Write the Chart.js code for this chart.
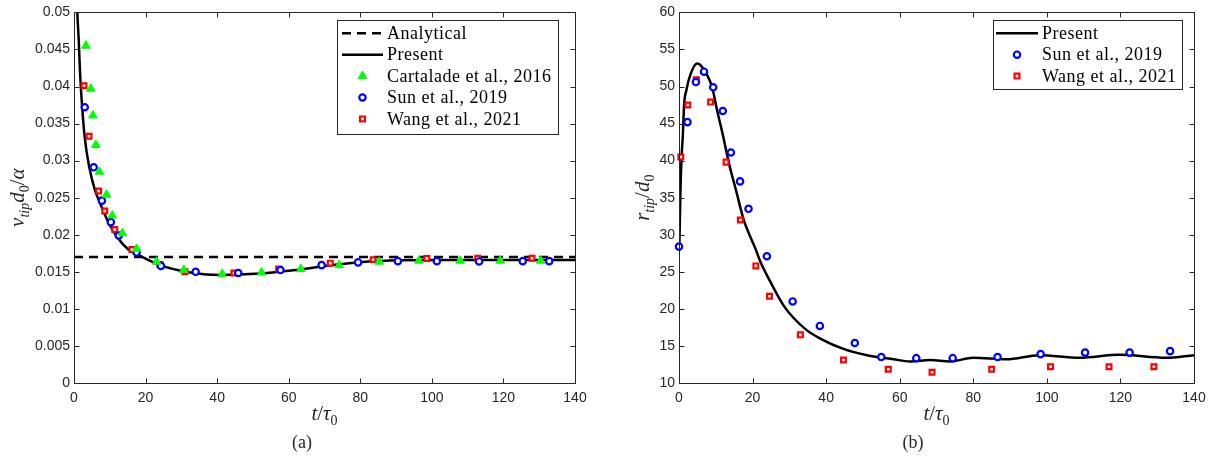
<!DOCTYPE html>
<html lang="en">
<head>
<meta charset="UTF-8">
<title>Tip velocity and tip radius</title>
<script src="https://cdn.jsdelivr.net/npm/chart.js"></script>
<style>
  body { margin: 0; background: #fff; }
  .panel { position: absolute; top: 0; width: 608px; height: 459px; }
</style>
</head>
<body>

<div class="panel" style="left:0"><canvas id="chartA"></canvas></div>
<div class="panel" style="left:608px"><canvas id="chartB"></canvas></div>

<script>
// ---- data ----
const tickT = [0, 20, 40, 60, 80, 100, 120, 140];
const tickV = [0, 0.005, 0.01, 0.015, 0.02, 0.025, 0.03, 0.035, 0.04, 0.045, 0.05];
const tickR = [10, 15, 20, 25, 30, 35, 40, 45, 50, 55, 60];

// (a) tip velocity
const analyticalT = [0, 140];
const analyticalV = [0.017, 0.017];
const presentTA = [0.6, 0.93, 1.3, 1.68, 2.23, 2.98, 4.27, 5.87, 7.26, 9.3, 11.9, 15.2, 17.5, 24, 33.3, 40.8, 52, 61.3, 70.6, 79, 91, 105, 120, 140];
const presentVA = [0.056, 0.05, 0.0465, 0.042, 0.0376, 0.0332, 0.0291, 0.026, 0.0243, 0.022, 0.0198, 0.018, 0.0174, 0.0159, 0.01484, 0.01457, 0.01476, 0.0152, 0.01582, 0.01627, 0.01657, 0.0166, 0.0166, 0.0166];
const cartT = [3.35, 4.7, 5.3, 6.1, 7.1, 9.1, 10.7, 13.5, 17.5, 23.1, 30.7, 41.4, 52.4, 63.4, 74.1, 85.3, 96.4, 107.9, 119.1, 130.4];
const cartV = [0.0455, 0.0397, 0.0361, 0.0321, 0.0285, 0.0254, 0.0226, 0.0202, 0.0181, 0.01636, 0.01524, 0.0147, 0.0149, 0.01537, 0.0159, 0.01636, 0.0165, 0.0165, 0.0165, 0.0165];
const sunTA = [3.0, 5.5, 7.8, 10.3, 12.5, 17.5, 24.3, 34.0, 45.9, 57.7, 69.2, 79.4, 90.5, 101.4, 113.2, 125.4, 132.8];
const sunVA = [0.0372, 0.0291, 0.0246, 0.0217, 0.0199, 0.0176, 0.0158, 0.0150, 0.01484, 0.01524, 0.0159, 0.01627, 0.01644, 0.01644, 0.0164, 0.01644, 0.01644];
const wangTA = [2.8, 4.2, 6.9, 8.6, 11.4, 16.2, 24.0, 31.0, 44.7, 57.2, 71.6, 83.6, 98.6, 112.8, 128.0];
const wangVA = [0.0401, 0.0333, 0.0259, 0.0232, 0.0207, 0.0180, 0.0160, 0.0150, 0.01484, 0.01537, 0.01617, 0.01662, 0.0168, 0.01684, 0.01684];

// (b) tip radius
const presentTB = [0.1, 0.4, 0.7, 1.0, 1.4, 2.0, 3.1, 4.9, 5.8, 7.6, 9.0, 10.4, 12.0, 13.5, 15.5, 17.6, 20.8, 22.1, 24.8, 28.5, 31.1, 34.8, 38.4, 44.7, 51.1, 58.3, 62.8, 68.3, 73.7, 80, 89, 98, 108.9, 119.7, 132.4, 140];
const presentRB = [28.5, 36, 40.5, 43, 47.6, 49.5, 51.6, 53.1, 52.9, 51.6, 49.9, 46.7, 43.3, 39.8, 36.0, 32.0, 28.1, 26.4, 23.7, 20.4, 18.8, 17.1, 16.0, 14.6, 13.75, 13.2, 12.9, 13.1, 12.9, 13.4, 13.2, 13.75, 13.4, 13.8, 13.4, 13.75];
const sunTB = [0, 2.3, 4.6, 6.8, 9.3, 11.9, 14.1, 16.6, 18.9, 23.9, 30.9, 38.3, 47.8, 55.0, 64.5, 74.4, 86.6, 98.3, 110.4, 122.5, 133.5];
const sunRB = [28.4, 45.2, 50.6, 52.0, 49.9, 46.7, 41.1, 37.2, 33.5, 27.1, 21.0, 17.7, 15.4, 13.5, 13.35, 13.35, 13.5, 13.9, 14.1, 14.1, 14.3];
const wangTB = [0.5, 2.4, 4.7, 8.6, 12.8, 16.7, 20.9, 24.6, 33.0, 44.7, 56.9, 68.8, 85.0, 101.0, 116.9, 129.1];
const wangRB = [40.5, 47.5, 50.9, 47.9, 39.8, 32.0, 25.8, 21.7, 16.5, 13.1, 11.85, 11.45, 11.85, 12.2, 12.2, 12.2];

const pts = (xs, ys) => xs.map((x, i) => ({ x: x, y: ys[i] }));

const AXIS = '#262626';
const SERIF = '"Liberation Serif", "Times New Roman", serif';

// little helper to draw math-ish text with subscripts
function drawMath(ctx, parts, cx, cy, rot) {
  const big = 21, small = 14;
  const fontOf = p => (p.it ? 'italic ' : '') + (p.sub ? small : big) + 'px ' + SERIF;
  let w = 0;
  parts.forEach(p => { ctx.font = fontOf(p); p.w = ctx.measureText(p.t).width; w += p.w; });
  ctx.save();
  ctx.translate(cx, cy);
  ctx.rotate(rot || 0);
  ctx.fillStyle = AXIS;
  ctx.textBaseline = 'alphabetic';
  let x = -w / 2;
  parts.forEach(p => {
    ctx.font = fontOf(p);
    ctx.fillText(p.t, x, p.sub ? 11 : 6);
    x += p.w;
  });
  ctx.restore();
}

const decor = {
  id: 'decor',
  afterDraw(chart, args, o) {
    const ctx = chart.ctx;
    const a = chart.chartArea;
    const xs = chart.scales.x, ys = chart.scales.y;
    ctx.save();
    // box + inward ticks
    ctx.strokeStyle = AXIS;
    ctx.lineWidth = 1;
    const L = Math.round(a.left) + 0.5, R = Math.round(a.right) + 0.5;
    const T = Math.round(a.top) + 0.5, B = Math.round(a.bottom) + 0.5;
    ctx.strokeRect(L, T, R - L, B - T);
    ctx.beginPath();
    xs.ticks.forEach(t => {
      const px = Math.round(xs.getPixelForValue(t.value)) + 0.5;
      ctx.moveTo(px, B); ctx.lineTo(px, B - 5);
      ctx.moveTo(px, T); ctx.lineTo(px, T + 5);
    });
    ys.ticks.forEach(t => {
      const py = Math.round(ys.getPixelForValue(t.value)) + 0.5;
      ctx.moveTo(L, py); ctx.lineTo(L + 5, py);
      ctx.moveTo(R, py); ctx.lineTo(R - 5, py);
    });
    ctx.stroke();

    // axis titles and caption
    drawMath(ctx, o.xTitle, (a.left + a.right) / 2, 414, 0);
    drawMath(ctx, o.yTitle, o.yTitleX, (a.top + a.bottom) / 2, -Math.PI / 2);
    ctx.fillStyle = AXIS;
    ctx.font = '18px ' + SERIF;
    ctx.textAlign = 'center';
    ctx.textBaseline = 'middle';
    ctx.fillText(o.caption, o.captionX, 443);

    // legend box
    const lg = o.legend;
    ctx.fillStyle = '#fff';
    ctx.fillRect(lg.x, lg.y, lg.w, lg.h);
    ctx.strokeStyle = AXIS;
    ctx.strokeRect(lg.x + 0.5, lg.y + 0.5, lg.w, lg.h);
    ctx.textAlign = 'left';
    ctx.font = '18px ' + SERIF;
    ctx.letterSpacing = '0.5px';
    chart.data.datasets.forEach((ds, i) => {
      const yy = lg.y + lg.first + i * lg.step;
      if (ds.showLine) {
        ctx.strokeStyle = ds.borderColor;
        ctx.lineWidth = ds.borderWidth;
        ctx.setLineDash(ds.borderDash || []);
        ctx.beginPath();
        ctx.moveTo(lg.lineX0, yy); ctx.lineTo(lg.lineX1, yy);
        ctx.stroke();
        ctx.setLineDash([]);
      } else {
        ctx.fillStyle = ds.pointBackgroundColor;
        ctx.strokeStyle = ds.pointBorderColor;
        ctx.lineWidth = ds.pointBorderWidth;
        Chart.helpers.drawPoint(ctx, {
          pointStyle: ds.pointStyle, radius: ds.pointRadius, rotation: 0,
          borderWidth: ds.pointBorderWidth
        }, (lg.lineX0 + lg.lineX1) / 2, yy);
      }
      ctx.fillStyle = '#000';
      ctx.fillText(ds.label, lg.textX, yy + 1);
    });
    ctx.restore();
  }
};

function lineSet(label, xs, ys, dash, order) {
  return {
    label: label, data: pts(xs, ys), showLine: true,
    borderColor: '#000', borderWidth: 2.5, borderDash: dash,
    pointRadius: 0, cubicInterpolationMode: 'monotone', order: order
  };
}
function markSet(label, xs, ys, style, color, radius, bw, bg) {
  return {
    label: label, data: pts(xs, ys), showLine: false,
    pointStyle: style, pointRadius: radius, pointBorderWidth: bw,
    pointBorderColor: color, pointBackgroundColor: bg,
    pointHoverRadius: radius, clip: false, order: 1
  };
}

function scaleSet(min, max, ticks, yWidth, fmt) {
  return {
    x: {
      type: 'linear', min: 0, max: 140,
      grid: { display: false, drawTicks: false }, border: { display: false },
      afterBuildTicks: s => { s.ticks = tickT.map(v => ({ value: v })); },
      afterFit: s => { s.height = 76; },
      ticks: { color: AXIS, padding: 7, maxRotation: 0, autoSkip: false,
        font: { family: '"Liberation Sans", Arial, sans-serif', size: 14 } }
    },
    y: {
      type: 'linear', min: min, max: max,
      grid: { display: false, drawTicks: false }, border: { display: false },
      afterBuildTicks: s => { s.ticks = ticks.map(v => ({ value: v })); },
      afterFit: s => { s.width = yWidth; },
      ticks: { color: AXIS, padding: 4, autoSkip: false, callback: fmt,
        font: { family: '"Liberation Sans", Arial, sans-serif', size: 14 } }
    }
  };
}

const baseOpts = {
  responsive: true, maintainAspectRatio: false, animation: false,
  plugins: { legend: { display: false }, tooltip: { enabled: false } }
};

new Chart(document.getElementById('chartA'), {
  type: 'scatter',
  data: {
    datasets: [
      lineSet('Analytical', analyticalT, analyticalV, [9, 6], 6),
      lineSet('Present', presentTA, presentVA, [], 5),
      markSet('Cartalade et al., 2016', cartT, cartV, 'triangle', '#00ff00', 5, 1, '#00ff00'),
      markSet('Sun et al., 2019', sunTA, sunVA, 'circle', '#0000ff', 3.2, 2.2, '#fff'),
      markSet('Wang et al., 2021', wangTA, wangVA, 'rect', '#ff0000', 3.4, 2.2, '#fff')
    ]
  },
  options: Object.assign({}, baseOpts, {
    layout: { padding: { left: 0, right: 33, top: 7, bottom: 0 } },
    scales: scaleSet(0, 0.05, tickV, 74, v => String(+v.toFixed(3))),
    plugins: Object.assign({}, baseOpts.plugins, {
      decor: {
        xTitle: [{ t: 't', it: 1 }, { t: '/' }, { t: 'τ', it: 1 }, { t: '0', sub: 1 }],
        yTitle: [{ t: 'v', it: 1 }, { t: 'tip', it: 1, sub: 1 }, { t: 'd', it: 1 }, { t: '0', sub: 1 }, { t: '/' }, { t: 'α', it: 1 }],
        yTitleX: 18, caption: '(a)', captionX: 302,
        legend: { x: 337, y: 20, w: 221, h: 114, first: 13.3, step: 21.4,
                  lineX0: 342, lineX1: 383, textX: 387 }
      }
    })
  }),
  plugins: [decor]
});

new Chart(document.getElementById('chartB'), {
  type: 'scatter',
  data: {
    datasets: [
      lineSet('Present', presentTB, presentRB, [], 5),
      markSet('Sun et al., 2019', sunTB, sunRB, 'circle', '#0000ff', 3.2, 2.2, '#fff'),
      markSet('Wang et al., 2021', wangTB, wangRB, 'rect', '#ff0000', 3.4, 2.2, '#fff')
    ]
  },
  options: Object.assign({}, baseOpts, {
    layout: { padding: { left: 0, right: 22, top: 7, bottom: 0 } },
    scales: scaleSet(10, 60, tickR, 71, v => String(v)),
    plugins: Object.assign({}, baseOpts.plugins, {
      decor: {
        xTitle: [{ t: 't', it: 1 }, { t: '/' }, { t: 'τ', it: 1 }, { t: '0', sub: 1 }],
        yTitle: [{ t: 'r', it: 1 }, { t: 'tip', it: 1, sub: 1 }, { t: '/' }, { t: 'd', it: 1 }, { t: '0', sub: 1 }],
        yTitleX: 35, caption: '(b)', captionX: 305,
        legend: { x: 385, y: 20, w: 189, h: 69, first: 13.3, step: 21.4,
                  lineX0: 388, lineX1: 430, textX: 434 }
      }
    })
  }),
  plugins: [decor]
});
</script>
</body>
</html>
